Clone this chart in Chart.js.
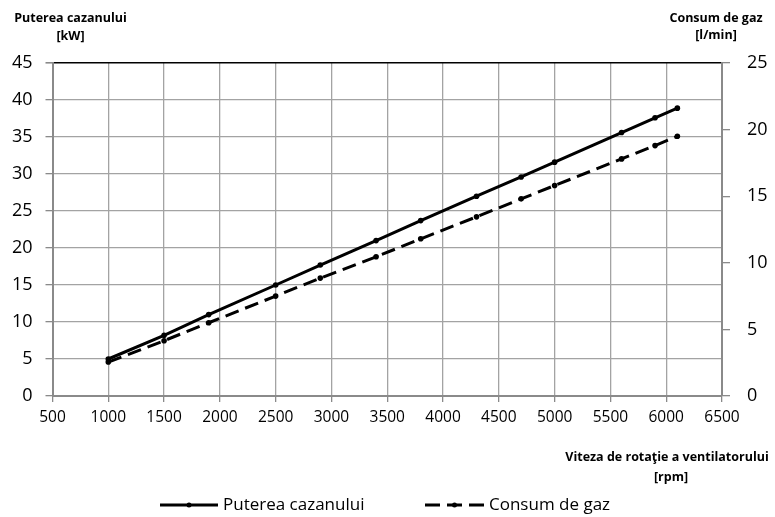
<!DOCTYPE html>
<html>
<head>
<meta charset="utf-8">
<script src="https://cdn.jsdelivr.net/npm/chart.js@4"></script>
<style>
  html, body { margin: 0; padding: 0; background: #fff; }
  #wrap { width: 775px; height: 517px; position: relative; }
</style>
</head>
<body>
<div id="wrap"><canvas id="c" width="775" height="517"></canvas></div>
<script>
// ---- data ----
const rpm = [1000, 1500, 1900, 2500, 2900, 3400, 3800, 4300, 4700, 5000, 5600, 5900, 6100];
const power = [5.0, 8.2, 11.0, 15.0, 17.7, 21.0, 23.7, 27.0, 29.6, 31.6, 35.6, 37.6, 38.9];
const gas = [2.55, 4.15, 5.5, 7.5, 8.85, 10.45, 11.8, 13.45, 14.8, 15.8, 17.8, 18.8, 19.5];
const seriesNames = ['Puterea cazanului', 'Consum de gaz'];
const leftTitle = ['Puterea cazanului', '[kW]'];
const rightTitle = ['Consum de gaz', '[l/min]'];
const xTitle = ['Viteza de rotaţie a ventilatorului', '[rpm]'];

const FONT = '"Open Sans", "DejaVu Sans", sans-serif';
const GRID = '#a3a3a3';
const AXIS = '#8a8a8a';

const titlesPlugin = {
  id: 'titles',
  afterDraw(chart) {
    const ctx = chart.ctx;
    ctx.save();
    ctx.fillStyle = '#000';
    ctx.textBaseline = 'middle';
    ctx.textAlign = 'center';
    ctx.font = 'bold 12.5px ' + FONT;
    ctx.fillText(leftTitle[0], 70.5, 18);
    ctx.fillText(leftTitle[1], 70.5, 36);
    ctx.fillText(rightTitle[0], 716, 18);
    ctx.fillText(rightTitle[1], 716, 35);
    ctx.fillText(xTitle[0], 667, 457);
    ctx.fillText(xTitle[1], 671, 477);

    // legend
    const ly = 505;
    const items = [
      { x0: 160, x1: 218, dash: [], text: chart.data.datasets[0].label },
      { x0: 425, x1: 484, dash: [15, 7], text: chart.data.datasets[1].label }
    ];
    items.forEach(it => {
      ctx.strokeStyle = '#000';
      ctx.lineWidth = 3;
      ctx.setLineDash(it.dash);
      ctx.beginPath();
      ctx.moveTo(it.x0, ly);
      ctx.lineTo(it.x1, ly);
      ctx.stroke();
      ctx.setLineDash([]);
      ctx.beginPath();
      ctx.arc((it.x0 + it.x1) / 2, ly, 2.5, 0, Math.PI * 2);
      ctx.fillStyle = '#000';
      ctx.fill();
      ctx.font = '17px ' + FONT;
      ctx.textAlign = 'left';
      ctx.fillText(it.text, it.x1 + 5, ly);
    });
    ctx.restore();
  }
};

new Chart(document.getElementById('c'), {
  type: 'line',
  data: {
    datasets: [
      {
        label: seriesNames[0],
        data: rpm.map((x, i) => ({ x: x, y: power[i] })),
        yAxisID: 'y',
        borderColor: '#000',
        backgroundColor: '#000',
        borderWidth: 3,
        pointRadius: 2.8,
        pointBorderWidth: 0,
        pointHoverRadius: 2.8,
        tension: 0
      },
      {
        label: seriesNames[1],
        data: rpm.map((x, i) => ({ x: x, y: gas[i] })),
        yAxisID: 'y2',
        borderColor: '#000',
        backgroundColor: '#000',
        borderWidth: 3,
        borderDash: [14, 7],
        pointRadius: 2.8,
        pointBorderWidth: 0,
        pointHoverRadius: 2.8,
        tension: 0
      }
    ]
  },
  options: {
    responsive: false,
    animation: false,
    devicePixelRatio: 1,
    layout: { padding: { top: 63, left: 0, right: 0, bottom: 0 } },
    plugins: { legend: { display: false }, tooltip: { enabled: false } },
    scales: {
      x: {
        type: 'linear',
        min: 500, max: 6500,
        afterFit(s) { s.height = 121; },
        ticks: { stepSize: 500, color: '#000', font: { family: FONT, size: 15.5 }, padding: 6, maxRotation: 0,
                 callback: v => String(v) },
        grid: { color: GRID, lineWidth: 1.3, tickLength: 6, tickColor: AXIS },
        border: { color: AXIS, width: 2 }
      },
      y: {
        position: 'left',
        min: 0, max: 45,
        afterFit(s) { s.width = 52.5; },
        ticks: { stepSize: 5, color: '#000', font: { family: FONT, size: 18 }, padding: 13, callback: v => String(v) },
        grid: {
          color: c => (c.tick && c.tick.value === 45) ? '#000' : GRID,
          lineWidth: c => (c.tick && c.tick.value === 45) ? 1.6 : 1.3,
          tickLength: 7, tickColor: AXIS
        },
        border: { color: AXIS, width: 2 }
      },
      y2: {
        position: 'right',
        min: 0, max: 25,
        afterFit(s) { s.width = 53; },
        ticks: { stepSize: 5, color: '#000', font: { family: FONT, size: 18 }, padding: 17, callback: v => String(v) },
        grid: { drawOnChartArea: false, tickLength: 8, tickColor: AXIS, lineWidth: 1.3 },
        border: { color: AXIS, width: 2 }
      }
    }
  },
  plugins: [titlesPlugin]
});
</script>
</body>
</html>
